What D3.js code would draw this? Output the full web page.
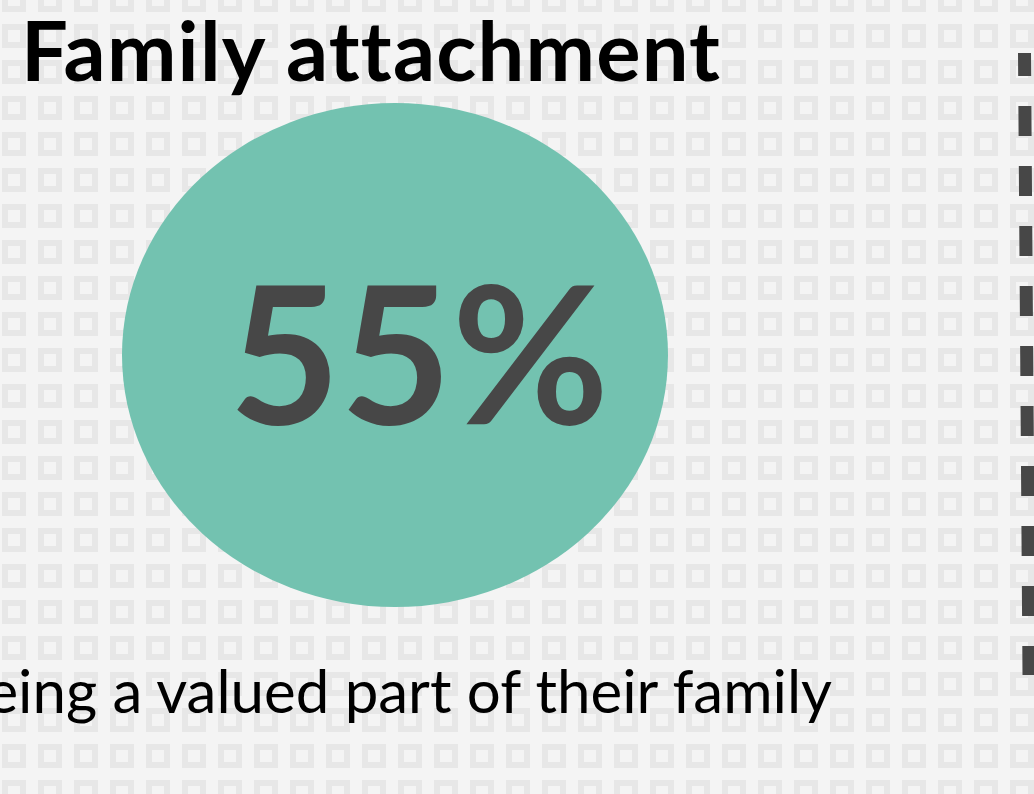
<!DOCTYPE html>
<html>
<head>
<meta charset="utf-8">
<script src="https://cdn.jsdelivr.net/npm/d3@7"></script>
<style>
  html, body { margin: 0; padding: 0; background: #f4f4f4; }
  svg { display: block; }
  text { font-variant-ligatures: none; font-feature-settings: "liga" 0; }
</style>
</head>
<body>
<div id="chart"></div>
<script>
// chart content
const titles = ['Family attachment'];
const shares = [55];
const captions = ['being a valued part of their family'];

const width = 1034,
  height = 794;

const svg = d3
  .select('#chart')
  .append('svg')
  .attr('width', width)
  .attr('height', height);

// background tile pattern
const defs = svg.append('defs');
const pat = defs
  .append('pattern')
  .attr('id', 'tiles')
  .attr('patternUnits', 'userSpaceOnUse')
  .attr('x', 2)
  .attr('y', 24)
  .attr('width', 36)
  .attr('height', 36);
pat
  .append('rect')
  .attr('x', 3)
  .attr('y', 3)
  .attr('width', 18)
  .attr('height', 18)
  .attr('fill', 'none')
  .attr('stroke', '#e7e7e7')
  .attr('stroke-width', 6);

svg
  .append('rect')
  .attr('width', width)
  .attr('height', height)
  .attr('fill', '#f4f4f4');
svg
  .append('rect')
  .attr('width', width)
  .attr('height', height)
  .attr('fill', 'url(#tiles)');

// title
svg
  .selectAll('.title')
  .data(titles)
  .join('text')
  .attr('class', 'title')
  .attr('x', 21)
  .attr('y', 81)
  .attr('font-family', 'Lato')
  .attr('font-weight', 'bold')
  .attr('font-size', '83px')
  .attr('letter-spacing', '1.2px')
  .attr('fill', '#000')
  .text((d) => d);

// the bubble
const cx = 395,
  cy = 355;
const rScale = d3.scaleLinear().domain([0, 55]).range([0, 273]);

svg
  .selectAll('.bubble')
  .data(shares)
  .join('ellipse')
  .attr('class', 'bubble')
  .attr('cx', cx)
  .attr('cy', cy)
  .attr('rx', (d) => rScale(d))
  .attr('ry', (d) => rScale(d) * (252 / 273))
  .attr('fill', '#73c2b0');

svg
  .selectAll('.share')
  .data(shares)
  .join('text')
  .attr('class', 'share')
  .attr('x', 419)
  .attr('y', 424)
  .attr('text-anchor', 'middle')
  .attr('font-family', 'Lato')
  .attr('font-weight', 'bold')
  .attr('font-size', '192px')
  .attr('fill', '#474747')
  .text((d) => d + '%');

// caption (runs off the left edge)
svg
  .selectAll('.caption')
  .data(captions)
  .join('text')
  .attr('class', 'caption')
  .attr('x', 832)
  .attr('y', 713)
  .attr('text-anchor', 'end')
  .attr('font-family', 'Lato')
  .attr('font-size', '60px')
  .attr('fill', '#000')
  .text((d) => d);

// dashed divider on the right
svg
  .append('line')
  .attr('x1', 1024.5)
  .attr('y1', 53)
  .attr('x2', 1029)
  .attr('y2', 675)
  .attr('stroke', '#474747')
  .attr('stroke-width', 13)
  .attr('stroke-dasharray', '30,30')
  .attr('stroke-dashoffset', 7);
</script>
</body>
</html>
